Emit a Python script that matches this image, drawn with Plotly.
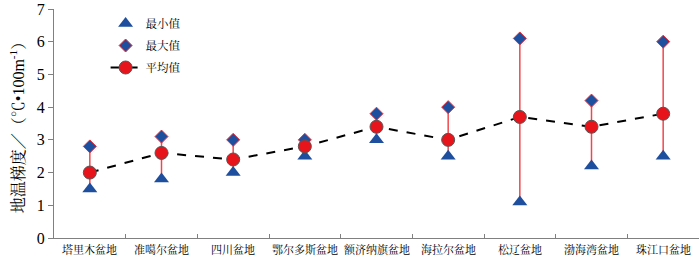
import plotly.graph_objects as go

categories = ["塔里木盆地", "准噶尔盆地", "四川盆地", "鄂尔多斯盆地", "额济纳旗盆地",
              "海拉尔盆地", "松辽盆地", "渤海湾盆地", "珠江口盆地"]
min_vals = [1.5, 1.8, 2.0, 2.5, 3.0, 2.5, 1.1, 2.2, 2.5]
max_vals = [2.8, 3.1, 3.0, 3.0, 3.8, 4.0, 6.1, 4.2, 6.0]
mean_vals = [2.0, 2.6, 2.4, 2.8, 3.4, 3.0, 3.7, 3.4, 3.8]
y_ticks = [0, 1, 2, 3, 4, 5, 6, 7]

FONT = "Liberation Serif, Noto Serif CJK SC, Noto Sans CJK SC, serif"

rx, ry = [], []
for c, lo, hi in zip(categories, min_vals, max_vals):
    rx += [c, c, None]
    ry += [lo, hi, None]

fig = go.Figure()
fig.add_trace(go.Scatter(x=rx, y=ry, mode="lines", line=dict(color="#f0474c", width=1.5),
                         showlegend=False, hoverinfo="skip"))
fig.add_trace(go.Scatter(x=categories, y=min_vals, mode="markers", name="最小值",
                         legendgroup="a",
                         marker=dict(symbol="triangle-up", size=13, color="#1d4f9e")))
fig.add_trace(go.Scatter(x=categories, y=max_vals, mode="markers", name="最大值",
                         legendgroup="b",
                         marker=dict(symbol="diamond", size=10, color="#1d4f9e",
                                     line=dict(color="#e8303a", width=1))))
fig.add_trace(go.Scatter(x=categories, y=mean_vals, mode="lines+markers", name="平均值",
                         legendgroup="c",
                         line=dict(color="black", width=2, dash="dash"),
                         marker=dict(symbol="circle", size=13, color="#e8141c",
                                     line=dict(color="#555555", width=1))))

fig.update_layout(
    width=700, height=259,
    margin=dict(l=54, r=1, t=9, b=21),
    paper_bgcolor="white", plot_bgcolor="white",
    font=dict(family=FONT, color="black"),
    showlegend=True,
    legend=dict(x=0.08, y=1.0, xanchor="left", yanchor="top",
                bgcolor="rgba(0,0,0,0)", font=dict(size=11.5, family=FONT),
                tracegroupgap=3, itemsizing="trace"),
    xaxis=dict(type="category", range=[-0.5, 8.5], showline=True, linecolor="#808080",
               linewidth=1, ticks="inside", ticklen=4, tickcolor="#808080",
               tickmode="array", tickvals=[i - 0.5 for i in range(1, 10)],
               ticktext=[""] * 9, showgrid=False, zeroline=False, automargin=False),
    yaxis=dict(range=[0, 7], tickvals=y_ticks, ticks="outside", ticklen=5,
               tickcolor="#808080", showline=True, linecolor="#808080", linewidth=1,
               showgrid=False, zeroline=False, tickfont=dict(size=16, family=FONT),
               automargin=False,
               title=dict(text="地温梯度／（℃•100m<sup>-1</sup>）",
                          font=dict(size=16, family=FONT), standoff=8)),
)

for i, c in enumerate(categories):
    fig.add_annotation(x=c, y=0, xref="x", yref="paper", text=c, showarrow=False,
                       yanchor="top", yshift=-3, font=dict(size=11, family=FONT))

fig.write_html("out.html", config={"displayModeBar": False},
               post_script="document.body.style.margin='0';")
